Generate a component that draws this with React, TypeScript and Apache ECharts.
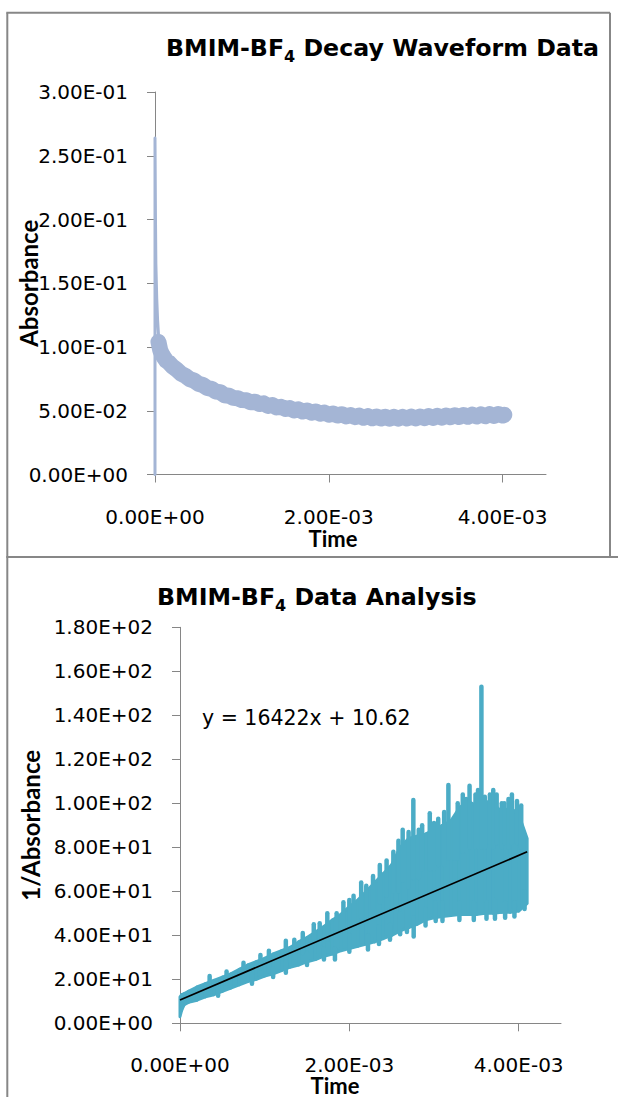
import React, { useEffect, useRef } from 'react';
import * as echarts from 'echarts';

// ---------- shared ----------
const timeTicks = [0, 0.002, 0.004];

// ---------- top chart: BMIM-BF4 decay waveform (Absorbance vs Time) ----------
// initial sharp spike at t = 0 (time in ms)
const spikeTimeMs = [0, 0, 0.005, 0.01, 0.02, 0.03, 0.04];
const spikeAbs = [0, 0.264, 0.205, 0.165, 0.138, 0.121, 0.11];
// noisy decay band centre (time in ms)
const decayTimeMs = [
  0.04, 0.06, 0.08, 0.1, 0.13, 0.16, 0.2,
  0.25, 0.3, 0.35, 0.4, 0.45, 0.5, 0.55, 0.6, 0.65, 0.7, 0.75, 0.8, 0.85, 0.9, 0.95,
  1.0, 1.05, 1.1, 1.15, 1.2, 1.25, 1.3, 1.35, 1.4, 1.45, 1.5, 1.55, 1.6, 1.65, 1.7, 1.75,
  1.8, 1.85, 1.9, 1.95, 2.0, 2.05, 2.1, 2.15, 2.2, 2.25, 2.3, 2.35, 2.4, 2.45, 2.5, 2.55,
  2.6, 2.65, 2.7, 2.75, 2.8, 2.85, 2.9, 2.95, 3.0, 3.05, 3.1, 3.15, 3.2, 3.25, 3.3, 3.35,
  3.4, 3.45, 3.5, 3.55, 3.6, 3.65, 3.7, 3.75, 3.8, 3.85, 3.9, 3.95, 4.0, 4.02,
];
const decayAbs = [
  0.104, 0.0975, 0.0945, 0.0922, 0.0892, 0.0878, 0.0848,
  0.0822, 0.0791, 0.0774, 0.0748, 0.0736, 0.0712, 0.0702, 0.0679, 0.0672, 0.065, 0.0646, 0.0622, 0.0618, 0.0601, 0.0598,
  0.0584, 0.0582, 0.0566, 0.0571, 0.0553, 0.0558, 0.0538, 0.0545, 0.0526, 0.0531, 0.0514, 0.0521, 0.0503, 0.0511, 0.0494, 0.0502,
  0.0485, 0.0494, 0.0477, 0.0486, 0.0469, 0.0478, 0.0462, 0.0473, 0.0455, 0.0466, 0.045, 0.0462, 0.0445, 0.0458, 0.0441, 0.0455,
  0.0439, 0.0453, 0.0437, 0.0452, 0.0438, 0.0452, 0.0439, 0.0454, 0.044, 0.0455, 0.0442, 0.0458, 0.0444, 0.046, 0.0446, 0.0462,
  0.0449, 0.0465, 0.0451, 0.0467, 0.0453, 0.047, 0.0455, 0.0472, 0.0457, 0.0474, 0.0459, 0.0475, 0.0462, 0.0468,
];

// ---------- bottom chart: 1/Absorbance vs Time ----------
const invTimeMs = [
  0, 0.02, 0.05, 0.1, 0.2, 0.3, 0.4, 0.5, 0.6, 0.7, 0.8, 0.9, 1.0, 1.1, 1.2, 1.3, 1.4, 1.5, 1.6, 1.7, 1.8,
  1.9, 2.0, 2.1, 2.2, 2.3, 2.4, 2.5, 2.6, 2.7, 2.8, 2.9, 3.0, 3.1, 3.2, 3.3, 3.4, 3.5, 3.6, 3.7, 3.8, 3.9, 4.0, 4.1,
];
const invLower = [
  3, 6, 8.5, 9.5, 10.5, 12, 13, 14.5, 16, 17.5, 19, 20, 21.5, 22.5, 24, 25.5, 26.5, 28, 29, 30.5, 31.5,
  33, 34, 35, 36, 37, 38.5, 40, 42, 43.5, 45, 47, 48, 48.5, 49, 49.5, 49.5, 49.5, 50, 50, 50.5, 50.5, 51, 54.5,
];
const invUpper = [
  12, 13, 13.5, 14.5, 16.5, 18, 19.5, 21, 22.5, 24.5, 26.5, 28, 29.5, 31.5, 33, 34.5, 37, 39, 41.5, 44, 47,
  49.5, 53, 56, 60, 64, 68, 72, 80, 84, 85, 86, 88, 90, 92, 98, 101, 99, 101, 100, 96, 98, 95, 84,
];
// upward noise spikes (ms, from, to)
const upSpikeTimeMs = [
  0.35, 0.55, 0.75, 0.95, 1.05, 1.25, 1.35, 1.45, 1.58, 1.65, 1.74, 1.85, 1.93, 2.0, 2.05, 2.14, 2.2, 2.28, 2.36, 2.44,
  2.52, 2.58, 2.63, 2.7, 2.756, 2.82, 2.86, 2.95, 3.0, 3.05, 3.12, 3.17, 3.24, 3.28, 3.34, 3.38, 3.42, 3.49, 3.52,
  3.56, 3.6, 3.66, 3.7, 3.74, 3.8, 3.83, 3.88, 3.92, 3.98, 4.03,
];
const upSpikeFrom = [
  16, 18, 21, 25, 26, 30, 30, 32, 36, 36, 38, 40, 42, 42, 45, 48, 48, 52, 55, 58,
  60, 60, 65, 62, 66, 66, 70, 70, 70, 72, 72, 75, 75, 75, 78, 78, 80, 80, 80,
  80, 80, 82, 80, 82, 80, 82, 80, 82, 82, 80,
];
const upSpikeTo = [
  21.5, 23.5, 27.5, 31, 33, 37.5, 38, 41, 45, 45.5, 50, 50, 55, 56, 58, 64, 62.5, 67, 72, 74,
  78, 83, 88, 87, 101.5, 88, 90, 95.5, 91, 93, 96, 108.3, 93, 100, 104, 102, 108, 104, 106,
  153, 103, 104, 106, 104, 100, 100, 102, 104, 101, 99,
];
// downward noise spikes (ms, from, to)
const downSpikeTimeMs = [0.45, 0.85, 1.1, 1.25, 1.5, 1.7, 1.83, 2.0, 2.22, 2.35, 2.48, 2.6, 2.68, 2.76, 2.9, 3.02, 3.1, 3.3, 3.47, 3.62, 3.72, 3.84, 3.95, 4.07];
const downSpikeFrom = [16, 22, 25, 28, 32, 34, 34, 40, 40, 44, 45, 50, 52, 48, 52, 55, 55, 55, 55, 55, 56, 55, 55, 60];
const downSpikeTo = [12.5, 18, 21, 23, 26.5, 29, 29, 32.5, 33.5, 36, 38, 40.5, 41.5, 39.5, 44.5, 46.5, 46.5, 47, 47, 47.5, 47.5, 48, 48.5, 52];
// linear trendline (Excel): y = 16422x + 10.62
const trendSlope = 16422;
const trendIntercept = 10.62;
const trendTimeRange = [0, 0.0041];

const TOP_COLOR = '#A4B5D5';
const BOTTOM_COLOR = '#4BACC6';
const AXIS_COLOR = '#868686';
const BORDER_COLOR = '#878787';
const TICK_FONT = "'DejaVu Sans', sans-serif";
const NAME_FONT = "Lato, 'DejaVu Sans', sans-serif";

const fmtSci = (v: number) => {
  if (Math.abs(v) < 1e-12) return '0.00E+00';
  const [m, e] = v.toExponential(2).split('e');
  const n = parseInt(e, 10);
  return `${m}E${n < 0 ? '-' : '+'}${String(Math.abs(n)).padStart(2, '0')}`;
};

const axisCommon = {
  axisLine: { show: true, onZero: false, lineStyle: { color: AXIS_COLOR, width: 1 } },
  splitLine: { show: false },
};

export default function App() {
  const ref = useRef<HTMLDivElement>(null);

  useEffect(() => {
    if (!ref.current) return;
    const chart = echarts.init(ref.current, undefined, { renderer: 'svg' });

    const ms = (t: number) => t / 1000;
    const spikeData = spikeTimeMs.map((t, i) => [ms(t), spikeAbs[i]]);
    const decayData = decayTimeMs.map((t, i) => [ms(t), decayAbs[i]]);
    const bandData = invTimeMs.map((t, i) => [ms(t), invLower[i], invUpper[i]]);
    const noiseData = [
      ...upSpikeTimeMs.map((t, i) => [ms(t), upSpikeFrom[i], upSpikeTo[i]]),
      ...downSpikeTimeMs.map((t, i) => [ms(t), downSpikeFrom[i], downSpikeTo[i]]),
    ];
    const trendData = trendTimeRange.map((t) => [t, trendSlope * t + trendIntercept]);

    const xAxisBase = (gridIndex: number, nameGap: number, padRight: number) => ({
      type: 'value',
      gridIndex,
      min: 0,
      max: 0.0045,
      interval: 0.002,
      name: 'Time',
      nameLocation: 'middle',
      nameGap,
      nameMoveOverlap: false,
      nameTextStyle: {
        fontFamily: NAME_FONT,
        fontWeight: 'bold',
        fontSize: 22,
        lineHeight: 18,
        color: '#000',
        padding: [0, padRight, 0, 0],
      },
      ...axisCommon,
      axisTick: { show: true, length: 8, lineStyle: { color: AXIS_COLOR }, customValues: timeTicks },
      axisLabel: {
        customValues: timeTicks,
        formatter: (v: number) => fmtSci(v),
        fontFamily: TICK_FONT,
        fontSize: 20,
        lineHeight: 20,
        color: '#000',
        margin: 32,
      },
    });

    const yAxisBase = (gridIndex: number, max: number, interval: number, name: string, nameGap: number) => ({
      type: 'value',
      gridIndex,
      min: 0,
      max,
      interval,
      name,
      nameLocation: 'middle',
      nameGap,
      nameMoveOverlap: false,
      nameTextStyle: { fontFamily: NAME_FONT, fontWeight: 'bold', fontSize: 24, lineHeight: 24, color: '#000' },
      ...axisCommon,
      axisTick: { show: true, length: 8, lineStyle: { color: AXIS_COLOR } },
      axisLabel: {
        formatter: (v: number) => fmtSci(v),
        fontFamily: TICK_FONT,
        fontSize: 20,
        color: '#000',
        margin: 27,
      },
    });

    const titleRich = {
      a: { fontFamily: TICK_FONT, fontWeight: 'bold', fontSize: 23.7, lineHeight: 32, color: '#000' },
      s: { fontFamily: TICK_FONT, fontWeight: 'bold', fontSize: 16, lineHeight: 14, verticalAlign: 'bottom', color: '#000' },
    };

    chart.setOption({
      animation: false,
      backgroundColor: '#fff',
      title: [
        {
          text: '{a|BMIM-BF}{s|4}{a| Decay Waveform Data}',
          left: 166,
          top: 32,
          padding: 0,
          textStyle: { rich: titleRich },
        },
        {
          text: '{a|BMIM-BF}{s|4}{a| Data Analysis}',
          left: 157,
          top: 581,
          padding: 0,
          textStyle: { rich: titleRich },
        },
      ],
      grid: [
        { left: 155, top: 92, width: 391, height: 382.5, outerBoundsMode: 'none' },
        { left: 180, top: 627.3, width: 381, height: 396, outerBoundsMode: 'none' },
      ],
      xAxis: [xAxisBase(0, 54.5, 35), xAxisBase(1, 53, 71)],
      yAxis: [
        yAxisBase(0, 0.3, 0.05, 'Absorbance', 115),
        yAxisBase(1, 180, 20, '1/Absorbance', 138),
      ],
      series: [
        {
          type: 'line',
          name: 'spike',
          xAxisIndex: 0,
          yAxisIndex: 0,
          data: spikeData,
          symbol: 'none',
          lineStyle: { color: TOP_COLOR, width: 3, cap: 'round', join: 'round' },
        },
        {
          type: 'line',
          name: 'Absorbance',
          xAxisIndex: 0,
          yAxisIndex: 0,
          data: decayData,
          symbol: 'none',
          lineStyle: { color: TOP_COLOR, width: 16, cap: 'round', join: 'round' },
        },
        {
          type: 'custom',
          name: '1/Absorbance band',
          xAxisIndex: 1,
          yAxisIndex: 1,
          data: bandData,
          encode: { x: 0, y: [1, 2] },
          renderItem: (params: any, api: any) => {
            const i = params.dataIndex;
            if (i >= bandData.length - 1) return null;
            const a = bandData[i];
            const b = bandData[i + 1];
            const pts = [
              api.coord([a[0], a[2]]),
              api.coord([b[0], b[2]]),
              api.coord([b[0], b[1]]),
              api.coord([a[0], a[1]]),
            ];
            return {
              type: 'polygon',
              shape: { points: pts },
              style: { fill: BOTTOM_COLOR, stroke: BOTTOM_COLOR, lineWidth: 3, lineJoin: 'round' },
            };
          },
        },
        {
          type: 'custom',
          name: '1/Absorbance noise',
          xAxisIndex: 1,
          yAxisIndex: 1,
          data: noiseData,
          encode: { x: 0, y: [1, 2] },
          renderItem: (params: any, api: any) => {
            const p1 = api.coord([api.value(0), api.value(1)]);
            const p2 = api.coord([api.value(0), api.value(2)]);
            return {
              type: 'line',
              shape: { x1: p1[0], y1: p1[1], x2: p2[0], y2: p2[1] },
              style: { stroke: BOTTOM_COLOR, lineWidth: 4.5, lineCap: 'round' },
            };
          },
        },
        {
          type: 'line',
          name: 'Linear trend',
          xAxisIndex: 1,
          yAxisIndex: 1,
          data: trendData,
          symbol: 'none',
          lineStyle: { color: '#000', width: 1.75 },
          z: 5,
        },
      ],
      graphic: [
        { type: 'line', shape: { x1: 7.3, y1: 12.7, x2: 7.3, y2: 1097 }, style: { stroke: BORDER_COLOR, lineWidth: 2 } },
        { type: 'line', shape: { x1: 6.3, y1: 12.7, x2: 610, y2: 12.7 }, style: { stroke: BORDER_COLOR, lineWidth: 2 } },
        { type: 'line', shape: { x1: 610, y1: 12.7, x2: 610, y2: 557 }, style: { stroke: BORDER_COLOR, lineWidth: 2 } },
        { type: 'line', shape: { x1: 6.3, y1: 557, x2: 618, y2: 557 }, style: { stroke: BORDER_COLOR, lineWidth: 2 } },
        {
          type: 'text',
          x: 202,
          y: 718,
          style: {
            text: 'y = 16422x + 10.62',
            fontFamily: TICK_FONT,
            fontSize: 20.5,
            fill: '#000',
            verticalAlign: 'middle',
            align: 'left',
          },
        },
      ],
    });

    return () => chart.dispose();
  }, []);

  return (
    <div
      ref={ref}
      style={{ position: 'fixed', left: 0, top: 0, width: 618, height: 1097, background: '#fff' }}
    />
  );
}
